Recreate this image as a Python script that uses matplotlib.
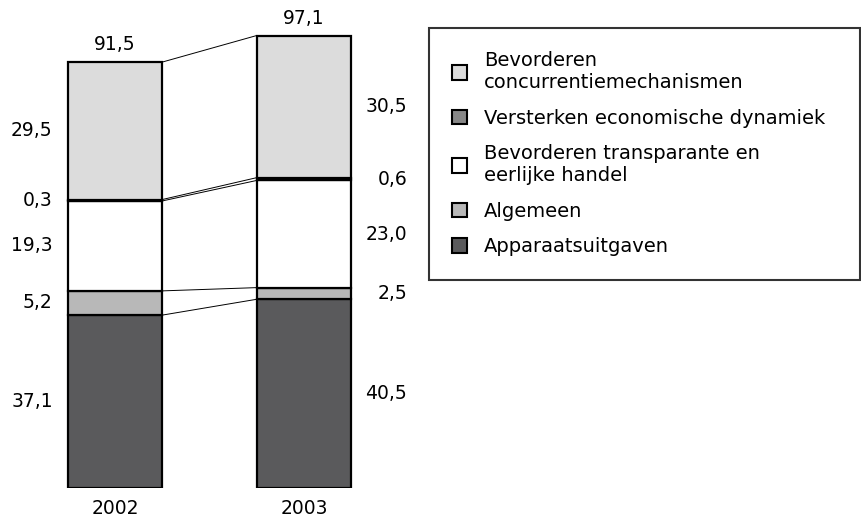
import matplotlib.pyplot as plt
from matplotlib.patches import Patch

plt.rcParams['font.family'] = ['DejaVu Sans']

years = ['2002', '2003']
totals = ['91,5', '97,1']
categories = ['Apparaatsuitgaven', 'Algemeen',
              'Bevorderen transparante en\neerlijke handel',
              'Versterken economische dynamiek',
              'Bevorderen\nconcurrentiemechanismen']
values_2002 = [37.1, 5.2, 19.3, 0.3, 29.5]
values_2003 = [40.5, 2.5, 23.0, 0.6, 30.5]
colors = ['#5a5a5c', '#b8b8b8', '#ffffff', '#888888', '#dcdcdc']

W, H = 862, 522
fig = plt.figure(figsize=(W / 100, H / 100), dpi=100)
# axes spans px 0..420 horizontally, 0..488 from top vertically
ax = fig.add_axes([0, (H - 488) / H, 420 / W, 488 / H])
ax.set_xlim(-115 / 189, (420 - 115) / 189)
ax.set_ylim(0, 488 / 4.66)
ax.axis('off')

bw = 0.5
for xi, vals in enumerate([values_2002, values_2003]):
    bottom = 0
    for v, c in zip(vals, colors):
        ax.bar(xi, v, bw, bottom=bottom, color=c, edgecolor='black', linewidth=1.6)
        bottom += v

# connecting lines between segment tops
cum_a, cum_b = 0, 0
for a, b in zip(values_2002, values_2003):
    cum_a += a
    cum_b += b
    ax.plot([bw / 2, 1 - bw / 2], [cum_a, cum_b], color='black', lw=0.7)

fs = 13.5
# value labels
cum = 0
for v in values_2002:
    ax.text(-bw / 2 - 15 / 189, cum + v / 2, f'{v:.1f}'.replace('.', ','),
            ha='right', va='center', fontsize=fs)
    cum += v
cum = 0
for v in values_2003:
    ax.text(1 + bw / 2 + 56 / 189, cum + v / 2, f'{v:.1f}'.replace('.', ','),
            ha='right', va='center', fontsize=fs)
    cum += v

for xi, (vals, t) in enumerate(zip([values_2002, values_2003], totals)):
    ax.text(xi, sum(vals) + 3.7, t, ha='center', va='center', fontsize=fs)
    ax.text(xi, -4.3, years[xi], ha='center', va='center', fontsize=fs)

handles = [Patch(facecolor=c, edgecolor='black', linewidth=1.5) for c in colors]
leg = fig.legend(handles[::-1], categories[::-1], loc='upper left',
                 bbox_to_anchor=(429 / W, 1 - 28 / H - 0.01, 431 / W, 0.01), mode='expand',
                 fontsize=14, frameon=True, fancybox=False, edgecolor='black',
                 handlelength=0.78, handleheight=0.78, handletextpad=0.85,
                 labelspacing=0.85, borderpad=1.2, borderaxespad=0)
leg.get_frame().set_linewidth(1.5)

fig.savefig('out.png', dpi=100)
